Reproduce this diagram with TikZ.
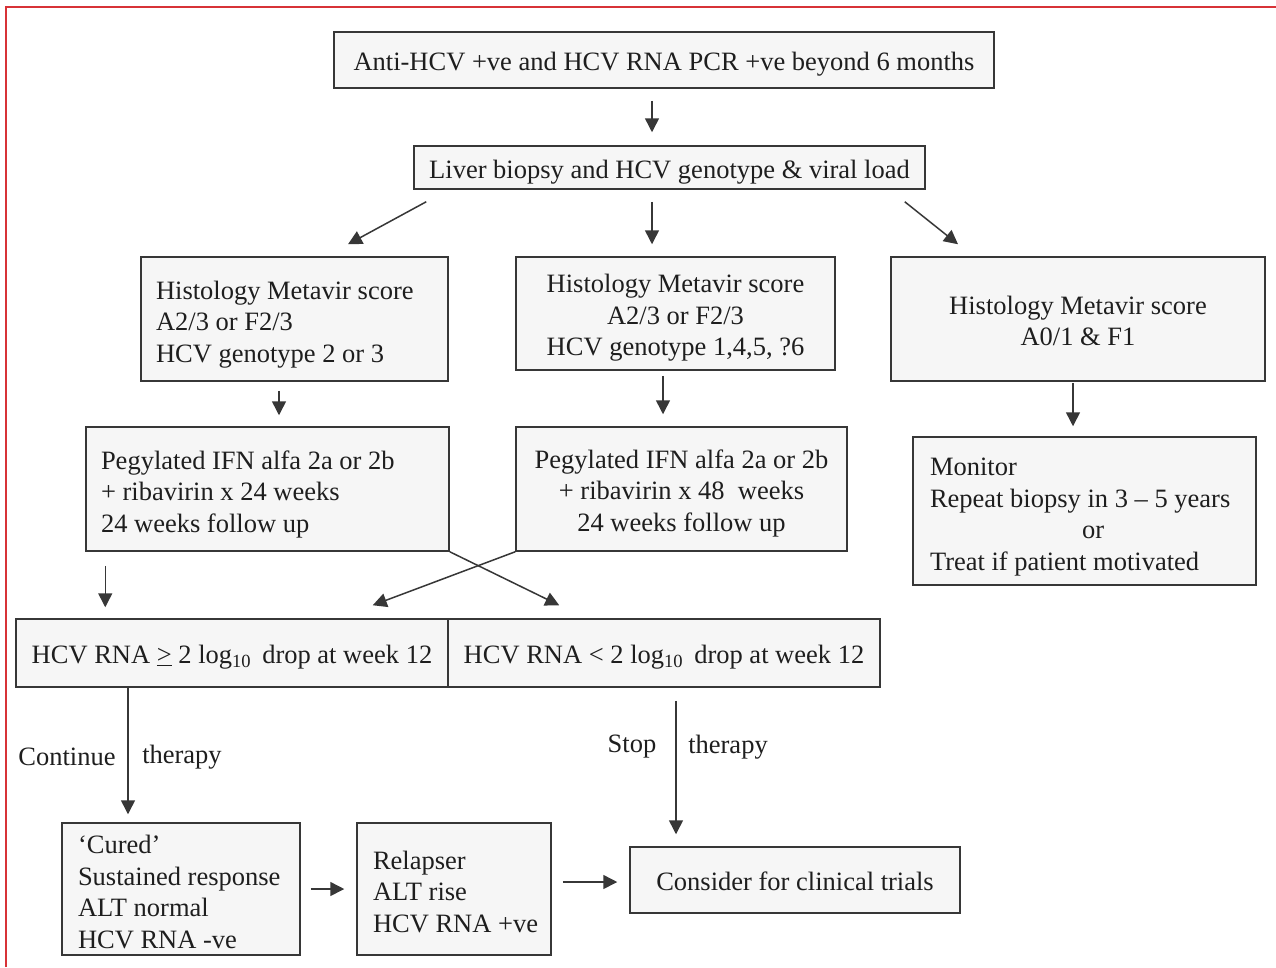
\documentclass[tikz,border=0pt]{standalone}
\usepackage{fontspec}
\setmainfont{Liberation Serif}
\usetikzlibrary{arrows.meta,calc}
\definecolor{ink}{RGB}{30,30,30}
\definecolor{edgec}{RGB}{55,55,55}
\definecolor{boxfill}{RGB}{246,246,246}
\definecolor{framec}{RGB}{215,50,55}
\newcommand{\lblock}[2]{\raisebox{-5.5pt}[\height][\depth]{\makebox[#1][l]{\begin{tabular}{@{}l@{}}#2\end{tabular}}}}
\newcommand{\cblock}[1]{\raisebox{-4.5pt}[\height][\depth]{\begin{tabular}{@{}c@{}}#1\end{tabular}}}
\tikzset{
  box/.style={draw=edgec, line width=1.5pt, fill=boxfill, inner ysep=0pt, inner xsep=15pt,
    text=ink, font=\fontsize{26.5}{31.5}\selectfont},
  arr/.style={draw=edgec, line width=1.5pt, -{Triangle[length=14pt,width=14pt]}},
  lbl/.style={text=ink, inner sep=0pt, font=\fontsize{26.5}{31.5}\selectfont}
}
\begin{document}
\begin{tikzpicture}[x=1pt,y=-1pt]
\useasboundingbox (0,0) rectangle (1276,967);
\fill[white] (0,0) rectangle (1276,967);
\draw[framec, line width=2pt] (6,967) -- (6,7) -- (1276,7);

\node[box, minimum width=660, minimum height=56] (top) at (664,60)
  {\cblock{Anti-HCV +ve and HCV RNA PCR +ve beyond 6 months}};
\node[box, minimum width=511, minimum height=43] (liver) at (669.5,167.5)
  {\cblock{Liver biopsy and HCV genotype \& viral load}};

\node[box, minimum width=307, minimum height=124] (lh) at (294.5,319)
  {\lblock{277pt}{Histology Metavir score\\A2/3 or F2/3\\HCV genotype 2 or 3}};
\node[box, minimum width=319, minimum height=113] (mh) at (675.5,313.5)
  {\cblock{Histology Metavir score\\A2/3 or F2/3\\HCV genotype 1,4,5, ?6}};
\node[box, minimum width=374, minimum height=124] (rh) at (1078,319)
  {\cblock{Histology Metavir score\\A0/1 \& F1}};

\node[box, minimum width=363, minimum height=124] (lp) at (267.5,489)
  {\lblock{333pt}{Pegylated IFN alfa 2a or 2b\\+ ribavirin x 24 weeks\\24 weeks follow up}};
\node[box, minimum width=331, minimum height=124] (mp) at (681.5,489)
  {\cblock{Pegylated IFN alfa 2a or 2b\\+ ribavirin x 48\ \ weeks\\24 weeks follow up}};
\node[box, minimum width=343, minimum height=148] (mon) at (1084.5,511)
  {\lblock{309pt}{Monitor\\Repeat biopsy in 3 – 5 years\\\hspace*{152pt}or\\Treat if patient motivated}};

\node[box, minimum width=432, minimum height=68] (g) at (232,653)
  {\cblock{HCV RNA \underline{>} 2 log\textsubscript{10}\, drop at week 12}};
\node[box, minimum width=432, minimum height=68] (l) at (664,653)
  {\cblock{HCV RNA < 2 log\textsubscript{10}\, drop at week 12}};

\node[box, minimum width=238, minimum height=132] (cured) at (181,889)
  {\lblock{206pt}{`Cured'\\Sustained response\\ALT normal\\HCV RNA -ve}};
\node[box, minimum width=194, minimum height=132] (rel) at (454,889)
  {\lblock{162pt}{Relapser\\ALT rise\\HCV RNA +ve}};
\node[box, minimum width=330, minimum height=66] (cons) at (795,880)
  {\cblock{Consider for clinical trials}};

\node[lbl] (cont) at (67,757) {Continue};
\node[lbl] (ther1) at (182,757) {therapy};
\node[lbl] (stop) at (632,747) {Stop};
\node[lbl] (ther2) at (728,747) {therapy};

\draw[arr] ($(top.south)+(-12,12)$) -- ($(liver.north)+(-17.5,-13)$);
\draw[arr] ($(liver.south west)+(13,12)$) -- ($(lh.north)+(53.5,-12)$);
\draw[arr] ($(liver.south)+(-17.5,12)$) -- ($(mh.north)+(-23.5,-12)$);
\draw[arr] ($(liver.south east)+(-21,12)$) -- ($(rh.north)+(-120,-12)$);
\draw[arr] ($(lh.south)+(-15.5,9)$) -- ($(lp.north)+(11.5,-11)$);
\draw[arr] ($(mh.south)+(-12.5,5)$) -- ($(mp.north)+(-18.5,-12)$);
\draw[arr] ($(rh.south)+(-5,1)$) -- ($(mon.north)+(-11.5,-10)$);
\draw[arr] ($(lp.south west)+(20,14)$) -- ($(g.north west)+(90,-11)$);
\draw[arr] (mp.south west) -- ($(g.north east)+(-76,-13)$);
\draw[arr] (lp.south east) -- ($(l.north west)+(112,-13)$);
\draw[arr] ($(g.south)+(-104,0)$) -- ($(cured.north)+(-53,-8)$);
\draw[arr] ($(l.south)+(12,13)$) -- ($(cons.north)+(-119,-12)$);
\draw[arr] ($(cured.east)+(10,0)$) -- ($(rel.west)+(-12,0)$);
\draw[arr] ($(rel.east)+(11,-7)$) -- ($(cons.west)+(-12,2)$);
\end{tikzpicture}
\end{document}
